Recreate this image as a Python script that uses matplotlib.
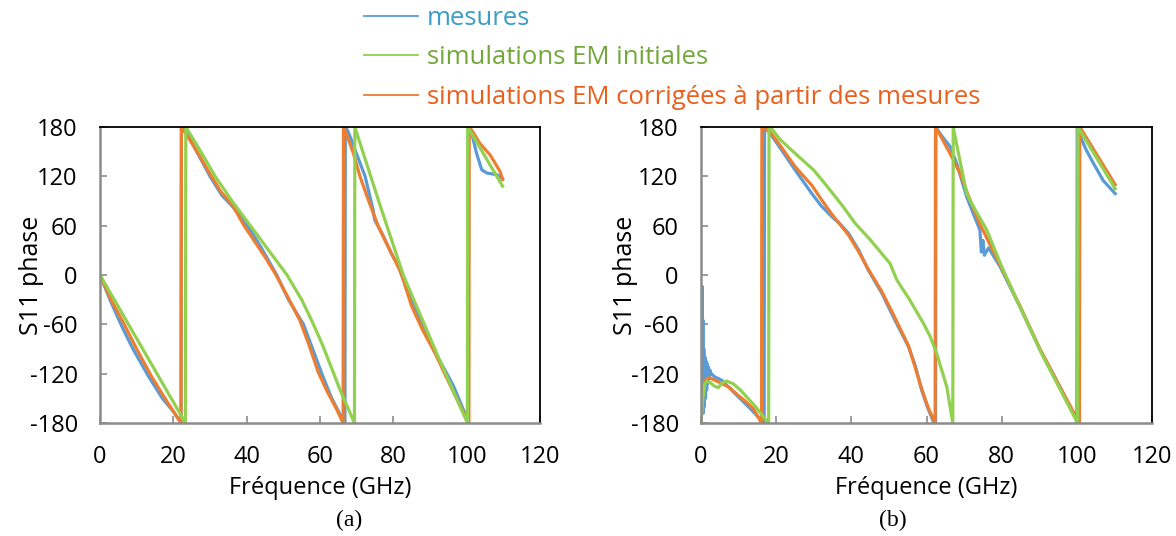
import matplotlib
matplotlib.use("Agg")
import matplotlib.pyplot as plt
from matplotlib.lines import Line2D

# ---------------- data ----------------
series_labels = ["mesures", "simulations EM initiales",
                 "simulations EM corrigées à partir des mesures"]
x_ticks = [0, 20, 40, 60, 80, 100, 120]
y_ticks = [-180, -120, -60, 0, 60, 120, 180]
panel_labels = ["(a)", "(b)"]

# panel (a)
f_meas_a = [0, 3, 5.9, 9, 13.2, 17, 20, 22.1, 22.2, 24, 27, 30, 33.2, 36, 38.6, 41, 44, 48.2,
            51.4, 55.5, 58, 60.5, 63, 65.5, 66.8, 66.9, 67.5, 68.5, 70, 72.3, 74.5, 74.9, 77,
            79.5, 81, 84.5, 88, 91.4, 94, 96.4, 99.5, 100.3, 100.4, 101.4, 102.7, 104.1, 105.5,
            108.2, 109.8]
p_meas_a = [0, -33, -62, -90, -123, -150, -166, -180, 180, 170, 145, 120, 97, 84, 70, 55, 33, 0,
            -30, -60, -90, -120, -148, -170, -180, 180, 176, 165, 147, 120, 79, 67, 50,
            26, 14, -25, -62, -95, -115, -135, -168, -180, 180, 172, 148, 128, 124, 122, 117]

f_init_a = [0, 23.3, 23.4, 27.5, 31.4, 36, 41, 46, 51, 55, 58, 60.5, 62, 65.5, 69.4,
            69.5, 76, 82.7, 91.8, 100.2, 100.3, 109.8]
p_init_a = [0, -180, 180, 150, 120, 90, 60, 30, 0, -30, -58, -83, -100, -140, -180,
            180, 90, 0, -95, -180, 180, 108]

f_corr_a = [0, 3, 6.6, 10, 14, 18, 22.1, 22.2, 24, 27, 30, 33, 36, 39.3, 42, 45, 48, 51, 54.5,
            57, 59.5, 62, 64.5, 66.3, 66.4, 67.5, 69.1, 70.9, 73.2, 76, 79.5, 82, 85, 88, 91.4,
            94, 97, 100.6, 100.7, 101.4, 103.6, 106.4, 109.1, 109.8]
p_corr_a = [0, -30, -60, -90, -123, -152, -180, 180, 168, 146, 123, 101, 86, 60, 42, 22, 0, -25,
            -55, -85, -118, -142, -163, -180, 180, 168, 148, 120, 91, 58, 26, 4, -38, -67, -95,
            -120, -148, -180, 180, 176, 160, 146, 126, 116]

# panel (b)
f_meas_b = [0.05, 0.15, 0.25, 0.3, 0.4, 0.5, 0.6, 0.75, 0.9, 1.05, 1.2, 1.35, 1.5, 1.65,
            1.8, 2.0, 2.2, 2.4, 2.7, 3.7, 5.5, 7.5, 9.9, 13, 16.3, 16.8, 16.9, 18.4, 21, 25,
            29.5, 32, 34.8, 37, 39.2, 42, 44.5, 48.1, 51.6, 55.2, 57, 58.7, 60.2, 61.8, 62.4,
            62.5, 63.6, 66.3, 68, 70.7, 72.5, 74.2, 74.6, 75.0, 75.4, 76.5, 79.6, 84.9, 90.2,
            95.5, 99.8, 100.0, 100.1, 100.8, 102.5, 104.4, 107, 110.2]
p_meas_b = [-170, -60, -165, -14, -160, -55, -168, -90, -160, -100, -150, -105, -140, -108,
            -132, -112, -126, -116, -120, -124, -128, -137, -148, -162, -178, -180, 180, 172,
            155, 128, 99, 84, 71, 62, 51, 30, 6, -22, -55, -87, -110, -140, -160, -178, -180,
            180, 172, 156, 136, 95, 74, 55, 28, 42, 24, 33, 10, -39, -91, -136, -175, -180,
            180, 170, 152, 136, 115, 99]

f_init_b = [0, 0.5, 1.0, 1.5, 2.5, 3.5, 4.6, 5.7, 6.8, 8.5, 10.5, 12.5, 14.5, 16.5, 18.0, 18.1,
            18.8, 21, 25.5, 29.9, 33, 37.5, 41, 45, 50.3, 52.1, 55.5, 59.2, 61, 62.7, 64, 65.4,
            67.0, 67.1, 68.5, 70.7, 72.5, 76, 80.4, 84.9, 91, 100.2, 100.3, 110.2]
p_init_b = [-180, -150, -133, -129, -131, -135, -137, -131, -129, -132, -140, -150, -160, -172,
            -180, 180, 178, 165, 146, 128, 111, 85, 63, 43, 14, -6, -30, -59, -75, -95, -115,
            -136, -180, 180, 148, 99, 83, 55, 6, -39, -99, -180, 180, 105]

f_corr_b = [0, 0.8, 1.5, 2.2, 3.7, 5.5, 7.3, 9.5, 11.7, 14, 16.1, 16.2, 18.4, 21, 25, 29.5, 32,
            34.8, 39.2, 42, 44.5, 48.1, 51.6, 55.2, 58.7, 60.5, 62.3, 62.4, 63.5, 66, 68.9, 71,
            74.2, 79.6, 84.9, 90.2, 95.5, 100.7, 100.8, 110.2]
p_corr_b = [-165, -132, -126, -125, -128, -132, -136, -145, -153, -163, -180, 180, 174, 158,
            132, 109, 92, 74, 49, 28, 7, -20, -52, -86, -138, -162, -180, 180, 171, 150, 124,
            98, 62, 12, -38, -90, -136, -180, 180, 110]

# ---------------- style ----------------
C_MEAS = "#5B9BD5"
C_INIT = "#92D050"
C_CORR = "#ED7D31"
TXT_COLORS = ["#3A9CC7", "#72A83A", "#E8601C"]
FONT = ["Open Sans", "DejaVu Sans"]
FS = 17

plt.rcParams["font.family"] = FONT
plt.rcParams["axes.unicode_minus"] = False

fig = plt.figure(figsize=(11.76, 5.36), dpi=100)
W, H = 1176, 536
ax_a = fig.add_axes([100 / W, 1 - 423 / H, 440 / W, 296 / H])
ax_b = fig.add_axes([701 / W, 1 - 423 / H, 451 / W, 296 / H])

panels = [
    (ax_a, (f_meas_a, p_meas_a), (f_init_a, p_init_a), (f_corr_a, p_corr_a), -0.155),
    (ax_b, (f_meas_b, p_meas_b), (f_init_b, p_init_b), (f_corr_b, p_corr_b), -0.168),
]

for ax, meas, init, corr, ylab_x in panels:
    ax.plot(meas[0], meas[1], color=C_MEAS, lw=2.3, solid_joinstyle="round")
    ax.plot(corr[0], corr[1], color=C_CORR, lw=2.3, solid_joinstyle="round")
    ax.plot(init[0], init[1], color=C_INIT, lw=2.3, solid_joinstyle="round")
    ax.set_xlim(0, 120)
    ax.set_ylim(-180, 180)
    ax.set_xticks(x_ticks)
    ax.set_yticks(y_ticks)
    ax.tick_params(axis="both", direction="in", length=5, width=1.2, color="#8C8C8C",
                   labelsize=FS, labelcolor="black")
    ax.tick_params(axis="x", pad=16)
    ax.tick_params(axis="y", pad=16)
    for s in ["left", "bottom"]:
        ax.spines[s].set_color("#8C8C8C")
        ax.spines[s].set_linewidth(1.8)
    for s in ["top", "right"]:
        ax.spines[s].set_color("black")
        ax.spines[s].set_linewidth(1.3)
    ax.set_xlabel("Fréquence (GHz)", fontsize=FS, va="center")
    ax.xaxis.set_label_coords(0.5, -0.22)
    ax.set_ylabel("S11 phase", fontsize=18, va="center")
    ax.yaxis.set_label_coords(ylab_x, 0.5)

fig.text(349 / W, 1 - 520 / H, panel_labels[0], family="Liberation Serif", fontsize=17,
         ha="center", va="center")
fig.text(893 / W, 1 - 520 / H, panel_labels[1], family="Liberation Serif", fontsize=17,
         ha="center", va="center")

handles = [Line2D([], [], color=c, lw=1.3) for c in (C_MEAS, C_INIT, C_CORR)]
fig.legend(handles, series_labels, loc="upper left", bbox_to_anchor=(364 / W, 1 - 6 / H),
           frameon=False, fontsize=18.5, labelcolor=TXT_COLORS, handlelength=2.1,
           handletextpad=0.35, labelspacing=0.56, borderpad=0, borderaxespad=0)

fig.savefig("out.png", dpi=100)
